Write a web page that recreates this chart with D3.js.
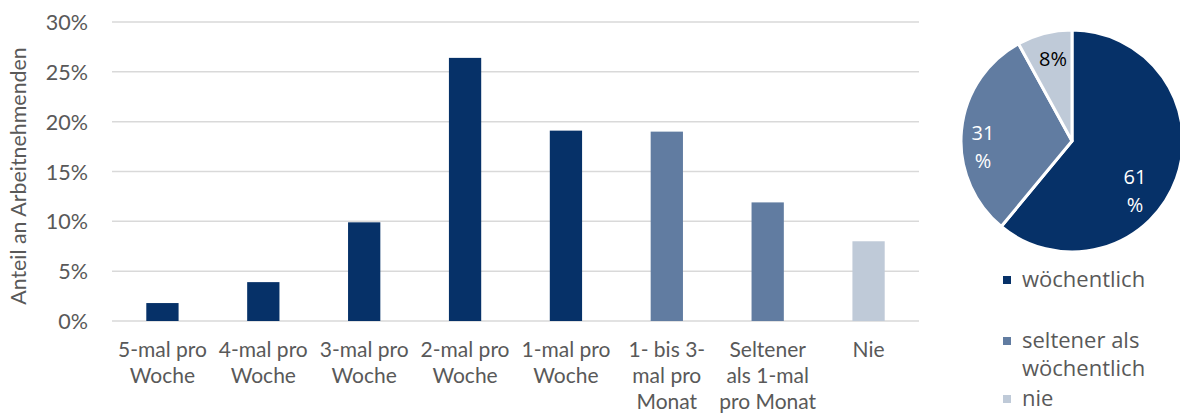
<!DOCTYPE html>
<html><head><meta charset="utf-8">
<script src="https://cdn.jsdelivr.net/npm/d3@7"></script>
<style>
html,body{margin:0;padding:0;background:#fff;}
svg{display:block;}
</style></head>
<body>
<svg id="chart" width="1180" height="414"></svg>
<script>
// ---- data ----
const categories = ["5-mal pro Woche","4-mal pro Woche","3-mal pro Woche","2-mal pro Woche","1-mal pro Woche","1- bis 3-mal pro Monat","Seltener als 1-mal pro Monat","Nie"];
const categoryLines = [["5-mal pro","Woche"],["4-mal pro","Woche"],["3-mal pro","Woche"],["2-mal pro","Woche"],["1-mal pro","Woche"],["1- bis 3-","mal pro","Monat"],["Seltener","als 1-mal","pro Monat"],["Nie"]];
const barValues = [1.8, 3.9, 9.9, 26.4, 19.1, 19.0, 11.9, 8.0];
const barGroup = ["w","w","w","w","w","s","s","n"];
const yTicks = [0,5,10,15,20,25,30];
const yTitle = "Anteil an Arbeitnehmenden";
const pieLabels = ["wöchentlich","seltener als wöchentlich","nie"];
const pieKeys = ["w","s","n"];
const pieValues = [61, 31, 8];
const pieTextLines = [["61","%"],["31","%"],["8%"]];
const legendLines = [["wöchentlich"],["seltener als","wöchentlich"],["nie"]];

const colors = {w:"#063168", s:"#617ca1", n:"#bfcad8"};
const svg = d3.select("#chart");

// ---- bar chart ----
const plot = {left:112, right:919, top:22, bottom:321};
const x = d3.scaleBand().domain(categories).range([plot.left, plot.right]).paddingInner(0.68).paddingOuter(0.34);
const y = d3.scaleLinear().domain([0,30]).range([plot.bottom, plot.top]);

const grid = svg.append("g");
grid.selectAll("line").data(yTicks).join("line")
  .attr("x1", plot.left).attr("x2", plot.right)
  .attr("y1", d=>y(d)).attr("y2", d=>y(d))
  .attr("stroke","#d9d9d9").attr("stroke-width",1.5);

const yAxis = d3.axisLeft(y).tickValues(yTicks).tickFormat(d=>d+"%").tickSize(0).tickPadding(0);
const ya = svg.append("g").attr("transform",`translate(${88},0)`).call(yAxis);
ya.select(".domain").remove();
ya.selectAll("text").attr("font-family","Lato, sans-serif").attr("font-size",21.5).attr("fill","#595959").attr("dy","0.35em");

svg.append("text").attr("transform",`translate(26,176) rotate(-90)`)
  .attr("text-anchor","middle").attr("font-family","Lato, sans-serif").attr("font-size",21.4).attr("fill","#595959")
  .text(yTitle);

svg.append("g").selectAll("rect").data(categories).join("rect")
  .attr("x", d=>x(d)).attr("width", x.bandwidth())
  .attr("y", (d,i)=>y(barValues[i])).attr("height",(d,i)=>y(0)-y(barValues[i]))
  .attr("fill",(d,i)=>colors[barGroup[i]]);

const xl = svg.append("g");
categories.forEach((c,i)=>{
  const t = xl.append("text").attr("x", x(c)+x.bandwidth()/2).attr("y",357)
    .attr("text-anchor","middle").attr("font-family","Lato, sans-serif").attr("font-size",21).attr("fill","#595959");
  categoryLines[i].forEach((l,j)=>{
    t.append("tspan").attr("x", x(c)+x.bandwidth()/2).attr("dy", j===0?0:26).text(l);
  });
});

// ---- pie ----
const cx = 1072, cy = 141, r = 111;
const pie = d3.pie().sort(null).value(d=>d)(pieValues);
const arc = d3.arc().innerRadius(0).outerRadius(r);
const pg = svg.append("g").attr("transform",`translate(${cx},${cy})`);
pg.selectAll("path").data(pie).join("path")
  .attr("d",arc).attr("fill",(d,i)=>colors[pieKeys[i]])
  .attr("stroke","#fff").attr("stroke-width",3).attr("stroke-linejoin","round");

const labelPos = [[63,43],[-89,-1],[-19,-75]];
const labelColors = ["#fff","#fff","#000"];
pie.forEach((p,i)=>{
  const t = pg.append("text").attr("x",labelPos[i][0]).attr("y",labelPos[i][1])
    .attr("text-anchor","middle").attr("font-family","'Open Sans', sans-serif").attr("font-size",20).attr("fill",labelColors[i]);
  pieTextLines[i].forEach((l,j)=>{
    t.append("tspan").attr("x",labelPos[i][0]).attr("dy", j===0?0:28).text(l);
  });
});

// ---- legend ----
const legY = [280, 341, 399];
const lg = svg.append("g");
pieKeys.forEach((k,i)=>{
  lg.append("rect").attr("x",1003).attr("y",legY[i]-4).attr("width",8).attr("height",8).attr("fill",colors[k]);
  const t = lg.append("text").attr("x",1022).attr("y",legY[i]+7)
    .attr("font-family","'Open Sans', sans-serif").attr("font-size",22).attr("fill","#595959");
  legendLines[i].forEach((l,j)=>{
    t.append("tspan").attr("x",1022).attr("dy", j===0?0:28).text(l);
  });
});
</script>
</body></html>
